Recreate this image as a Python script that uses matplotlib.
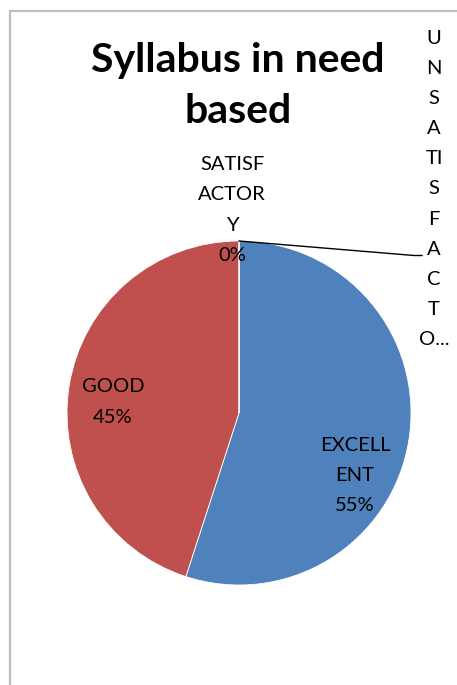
import matplotlib.pyplot as plt
from matplotlib.patches import Rectangle
from matplotlib.lines import Line2D

categories = ['EXCELLENT', 'GOOD', 'SATISFACTORY', 'UNSATISFACTORY']
values = [55, 45, 0, 0]
colors = ['#4F81BD', '#C0504D', '#9BBB59', '#8064A2']

W, H = 457, 685
plt.rcParams['font.family'] = ['Lato', 'DejaVu Sans']

fig = plt.figure(figsize=(W / 100, H / 100), dpi=100)

def fx(x):
    return x / W

def fy(y):
    return 1 - y / H

# chart area frame (cut by the image edges)
fig.patches.append(Rectangle((fx(10), fy(700)), fx(460), fy(11) - fy(700),
                             transform=fig.transFigure, fill=False,
                             edgecolor='#BEBEBE', linewidth=1.6))

cx, cy, r = 239, 413, 172
ax = fig.add_axes([fx(cx - r), fy(cy + r), 2 * r / W, 2 * r / H])
ax.pie(values, colors=colors, startangle=90, counterclock=False,
       wedgeprops=dict(linewidth=0.6, edgecolor='white'))
ax.set_xlim(-1, 1)
ax.set_ylim(-1, 1)
ax.axis('off')

fig.text(fx(238), fy(86), 'Syllabus in need\nbased', ha='center', va='center',
         fontsize=29.5, fontweight='bold', linespacing=1.48)

lab = dict(ha='center', va='center', fontsize=14.5, linespacing=1.93)
fig.text(fx(355), fy(475.5), 'EXCELL\nENT\n%d%%' % values[0], **lab)
fig.text(fx(113), fy(402), 'GOOD\n%d%%' % values[1], **lab)
fig.text(fx(232), fy(210), 'SATISF\nACTOR\nY\n%d%%' % values[2], **lab)
fig.text(fx(434), fy(189), '\n'.join(['U', 'N', 'S', 'A', 'TI', 'S', 'F', 'A', 'C', 'T', 'O...']),
         **lab)

fig.lines.append(Line2D([fx(239), fx(414), fx(422)], [fy(241), fy(255.5), fy(255.5)],
                        transform=fig.transFigure, color='black', linewidth=1))

fig.savefig('out.png', dpi=100)
